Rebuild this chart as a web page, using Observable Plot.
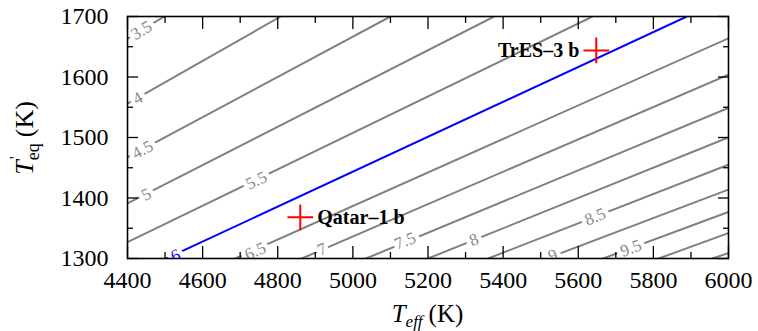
<!DOCTYPE html>
<html>
<head>
<meta charset="utf-8">
<script src="https://cdn.jsdelivr.net/npm/d3@7"></script>
<script src="https://cdn.jsdelivr.net/npm/@observablehq/plot@0.6"></script>
<style>
  html, body { margin: 0; padding: 0; background: #fff; }
</style>
</head>
<body>
<div id="chart"></div>
<script>
// ---- data ----
const contourLevels  = [3.5, 4, 4.5, 5, 5.5, 6, 6.5, 7, 7.5, 8, 8.5, 9, 9.5, 10, 10.5];
const lineStartTeff  = [4400, 4400, 4400, 4400, 4400, 4503, 4687, 4864, 5035, 5200, 5360, 5516, 5666, 5814, 5957];
const lineStartTeq   = [1663, 1556, 1467, 1391, 1327, 1300, 1300, 1300, 1300, 1300, 1300, 1300, 1300, 1300, 1300];
const lineEndTeff    = [4498, 4808, 5100, 5376, 5638, 5889, 6000, 6000, 6000, 6000, 6000, 6000, 6000, 6000, 6000];
const lineEndTeq     = [1700, 1700, 1700, 1700, 1700, 1700, 1664, 1604, 1549, 1500, 1455, 1414, 1377, 1342, 1309];

const labelLevels = [3.5, 4, 4.5, 5, 5.5, 6, 6.5, 7, 7.5, 8, 8.5, 9, 9.5];
const labelText   = ["3.5", "4", "4.5", "5", "5.5", "6", "6.5", "7", "7.5", "8", "8.5", "9", "9.5"];
const labelTeff   = [4437, 4427, 4440, 4450, 4743, 4528, 4740, 4918, 5139, 5322, 5645, 5532, 5740];
const labelTeq    = [1677, 1565, 1480, 1406, 1429, 1305, 1312, 1315, 1329, 1331, 1369, 1305, 1317];

const planetNames = ["Qatar\u20131 b", "TrES\u20133 b"];
const planetTeff  = [4860, 5648];
const planetTeq   = [1368, 1644];

const xTicks      = [4400, 4600, 4800, 5000, 5200, 5400, 5600, 5800, 6000];
const xMinorTicks = [4500, 4700, 4900, 5100, 5300, 5500, 5700, 5900];
const yTicks      = [1300, 1400, 1500, 1600, 1700];
const yMinorTicks = [1350, 1450, 1550, 1650];
const highlightLevel = 6;

// ---- layout ----
const W = 758, H = 331;
const mL = 127, mR = 30, mT = 16, mB = 73;
const plotW = W - mL - mR, plotH = H - mT - mB;
const xDom = [4400, 6000], yDom = [1300, 1700];
const pxPerX = plotW / (xDom[1] - xDom[0]);
const pxPerY = plotH / (yDom[1] - yDom[0]);

const lineRows = [];
contourLevels.forEach((lv, i) => {
  lineRows.push({level: lv, teff: lineStartTeff[i], teq: lineStartTeq[i]});
  lineRows.push({level: lv, teff: lineEndTeff[i], teq: lineEndTeq[i]});
});
const labelRows = labelLevels.map((lv, i) => {
  const j = contourLevels.indexOf(lv);
  const slope = (lineEndTeq[j] - lineStartTeq[j]) / (lineEndTeff[j] - lineStartTeff[j]);
  const ang = -Math.atan(slope * pxPerY / pxPerX) * 180 / Math.PI;
  return {level: lv, text: labelText[i], teff: labelTeff[i], teq: labelTeq[i], angle: ang};
});
const planetRows = planetNames.map((n, i) => ({name: n, teff: planetTeff[i], teq: planetTeq[i]}));

const gray = "#808080";
const serif = "Liberation Serif";

const tickOpts = {stroke: "black", strokeWidth: 1.3, tickFormat: () => "", label: null};

const chart = Plot.plot({
  width: W, height: H,
  marginLeft: mL, marginRight: mR, marginTop: mT, marginBottom: mB,
  style: {fontFamily: serif, background: "white", overflow: "visible"},
  x: {domain: xDom},
  y: {domain: yDom},
  marks: [
    Plot.line(lineRows.filter(d => d.level !== highlightLevel), {x: "teff", y: "teq", z: "level", stroke: gray, strokeWidth: 2, clip: true}),
    Plot.line(lineRows.filter(d => d.level === highlightLevel), {x: "teff", y: "teq", z: "level", stroke: "#0000ff", strokeWidth: 2, clip: true}),
    Plot.text(labelRows, {x: "teff", y: "teq", text: "text", rotate: "angle",
      fill: d => d.level === highlightLevel ? "#0000ff" : "#888888",
      stroke: "white", strokeWidth: 9, fontSize: 17, fontFamily: serif, clip: true}),
    Plot.dot(planetRows, {x: "teff", y: "teq", symbol: "plus", r: 8.3, stroke: "#ff0000", strokeWidth: 2}),
    Plot.text(planetRows.filter((d, i) => i === 0), {x: "teff", y: "teq", text: "name", textAnchor: "start", dx: 17, dy: 0,
      fontSize: 20, fontWeight: "bold", fontFamily: serif, fill: "black"}),
    Plot.text(planetRows.filter((d, i) => i === 1), {x: "teff", y: "teq", text: "name", textAnchor: "end", dx: -17, dy: 0,
      fontSize: 20, fontWeight: "bold", fontFamily: serif, fill: "black"}),
    // tick labels
    Plot.axisX(xTicks, {anchor: "bottom", tickSize: 0, tickPadding: 12, fontSize: 24, fontFamily: serif, tickFormat: d => String(d), label: null, fill: "black"}),
    Plot.axisY(yTicks, {anchor: "left", tickSize: 0, tickPadding: 19, fontSize: 24, fontFamily: serif, tickFormat: d => String(d), label: null, fill: "black"}),
    // inward ticks on all sides
    Plot.axisX(xTicks, {anchor: "bottom", tickSize: -12, ...tickOpts}),
    Plot.axisX(xTicks, {anchor: "top", tickSize: -12, ...tickOpts}),
    Plot.axisX(xMinorTicks, {anchor: "bottom", tickSize: -6, ...tickOpts}),
    Plot.axisX(xMinorTicks, {anchor: "top", tickSize: -6, ...tickOpts}),
    Plot.axisY(yTicks, {anchor: "left", tickSize: -11, ...tickOpts}),
    Plot.axisY(yTicks, {anchor: "right", tickSize: -11, ...tickOpts}),
    Plot.axisY(yMinorTicks, {anchor: "left", tickSize: -6, ...tickOpts}),
    Plot.axisY(yMinorTicks, {anchor: "right", tickSize: -6, ...tickOpts}),
    Plot.frame({stroke: "black", strokeWidth: 1.6})
  ]
});

document.getElementById("chart").appendChild(chart);

const svg = d3.select(chart);
// make sure tick labels use the large serif face
svg.selectAll('g[aria-label$="tick label"]')
  .attr("font-family", serif).attr("font-size", 24)
  .style("font-family", serif).style("font-size", "24px");
svg.selectAll('g[aria-label$="tick label"] text')
  .style("font-family", serif).style("font-size", "24px");

// axis titles with sub/superscripts
const xt = svg.append("text")
  .attr("x", mL + plotW / 2).attr("y", 322)
  .attr("text-anchor", "middle")
  .style("font-family", serif).style("font-size", "25px").attr("fill", "black");
xt.append("tspan").style("font-style", "italic").text("T");
xt.append("tspan").style("font-style", "italic").style("font-size", "17px").attr("dy", 5).text("eff");
xt.append("tspan").attr("dy", -5).attr("dx", 6).text("(K)");

const yt = svg.append("text")
  .attr("transform", `translate(33, ${mT + plotH / 2 + 1}) rotate(-90)`)
  .attr("text-anchor", "middle")
  .style("font-family", serif).style("font-size", "26px").attr("fill", "black");
yt.append("tspan").style("font-style", "italic").text("T");
yt.append("tspan").style("font-size", "17px").attr("dy", -12).attr("dx", 1).text("'");
yt.append("tspan").style("font-size", "18px").attr("dy", 18).attr("dx", -4).text("eq");
yt.append("tspan").attr("dy", -6).attr("dx", 6).text("(K)");
</script>
</body>
</html>
